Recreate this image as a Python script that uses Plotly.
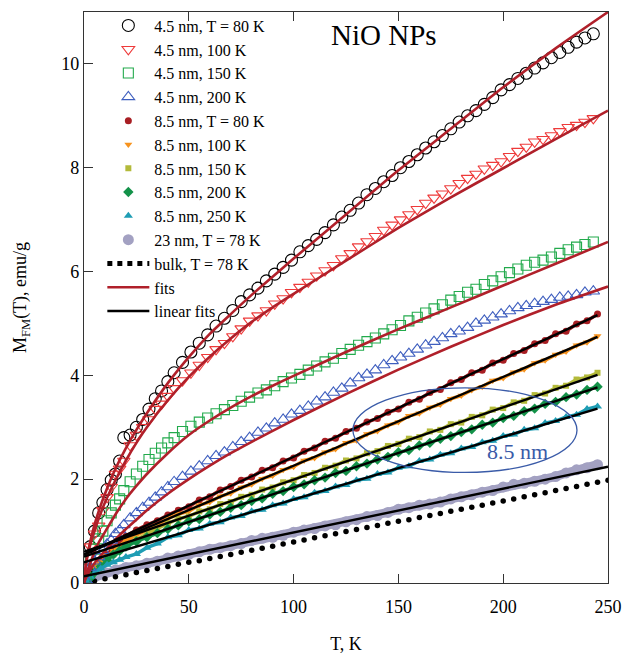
import plotly.graph_objects as go

# ---------------- data ----------------
# 4.5 nm NPs (open markers), common temperature grid
T45 = [1, 3, 5, 7, 9, 11, 13, 15, 17, 19, 22, 25, 28, 31, 34, 37, 40, 43, 47, 51, 55, 59, 63, 67,
       71, 75, 79, 83, 87, 91, 95, 99, 103, 107, 111, 115, 119, 123, 127, 131, 135, 139, 143, 147,
       151, 155, 159, 163, 167, 171, 175, 179, 183, 187, 191, 195, 199, 203, 207, 211, 215, 219,
       223, 227, 231, 235, 239, 243]
m45_80 = [0.25, 0.7, 1.0, 1.35, 1.55, 1.8, 1.98, 2.1, 2.35, 2.8, 2.85, 3.0, 3.15, 3.35, 3.55, 3.7,
          3.88, 4.05, 4.25, 4.45, 4.62, 4.78, 4.95, 5.1, 5.25, 5.42, 5.55, 5.68, 5.82, 5.95, 6.08,
          6.22, 6.38, 6.5, 6.62, 6.75, 6.9, 7.05, 7.18, 7.32, 7.48, 7.6, 7.73, 7.85, 8.0, 8.12, 8.25,
          8.38, 8.5, 8.62, 8.75, 8.88, 9.0, 9.1, 9.22, 9.35, 9.5, 9.6, 9.72, 9.82, 9.92, 10.02,
          10.12, 10.22, 10.32, 10.42, 10.5, 10.58]
m45_100 = [0.3, 0.7, 0.95, 1.1, 1.4, 1.65, 1.85, 2.1, 2.2, 2.35, 2.65, 2.85, 3.0, 3.15, 3.35, 3.45,
           3.6, 3.75, 3.9, 4.05, 4.2, 4.35, 4.5, 4.62, 4.75, 4.9, 5.05, 5.15, 5.25, 5.38, 5.48, 5.6,
           5.7, 5.8, 5.92, 6.02, 6.12, 6.25, 6.35, 6.48, 6.58, 6.68, 6.8, 6.9, 7.0, 7.1, 7.2, 7.32,
           7.42, 7.5, 7.6, 7.7, 7.8, 7.88, 7.98, 8.05, 8.12, 8.22, 8.32, 8.4, 8.5, 8.55, 8.62, 8.7,
           8.78, 8.82, 8.88, 8.95]
m45_150 = [0.1, 0.45, 0.65, 0.85, 1.0, 1.2, 1.35, 1.5, 1.62, 1.78, 1.95, 2.1, 2.25, 2.38, 2.5, 2.6,
           2.7, 2.8, 2.92, 3.02, 3.1, 3.18, 3.26, 3.34, 3.42, 3.5, 3.58, 3.66, 3.72, 3.8, 3.88, 3.95,
           4.02, 4.1, 4.18, 4.26, 4.33, 4.42, 4.5, 4.58, 4.65, 4.72, 4.8, 4.88, 4.96, 5.05, 5.12,
           5.2, 5.28, 5.36, 5.45, 5.52, 5.6, 5.66, 5.75, 5.82, 5.9, 5.98, 6.05, 6.12, 6.18, 6.22,
           6.28, 6.35, 6.42, 6.47, 6.52, 6.57]
m45_200 = [0.05, 0.3, 0.42, 0.5, 0.62, 0.75, 0.82, 0.95, 1.02, 1.12, 1.25, 1.35, 1.45, 1.55, 1.65,
           1.75, 1.85, 1.95, 2.05, 2.15, 2.25, 2.35, 2.45, 2.52, 2.62, 2.72, 2.8, 2.9, 2.98, 3.08,
           3.15, 3.25, 3.32, 3.4, 3.5, 3.58, 3.67, 3.75, 3.85, 3.95, 4.02, 4.1, 4.2, 4.28, 4.35,
           4.42, 4.5, 4.58, 4.65, 4.72, 4.8, 4.85, 4.92, 5.0, 5.06, 5.12, 5.18, 5.24, 5.3, 5.34,
           5.38, 5.42, 5.46, 5.5, 5.52, 5.55, 5.6, 5.62]

# fits for 4.5 nm
T_fit = [0, 1, 2, 3, 5, 7, 10, 15, 20, 25, 30, 40, 50, 60, 70, 80, 90, 100, 125, 150, 175, 200, 225, 250]
fit_80 = [0, 0.4, 0.62, 0.8, 1.12, 1.38, 1.72, 2.2, 2.6, 2.95, 3.27, 3.85, 4.35, 4.8, 5.18, 5.55,
          5.9, 6.25, 7.1, 7.95, 8.75, 9.55, 10.3, 11.0]
fit_100 = [0, 0.38, 0.58, 0.74, 1.0, 1.24, 1.55, 1.98, 2.36, 2.7, 3.0, 3.52, 3.97, 4.36, 4.71, 5.03,
           5.31, 5.57, 6.21, 6.84, 7.43, 7.99, 8.55, 9.1]
fit_150 = [0, 0.18, 0.28, 0.38, 0.6, 0.78, 0.98, 1.32, 1.62, 1.87, 2.1, 2.5, 2.85, 3.13, 3.38, 3.6,
           3.8, 3.99, 4.45, 4.89, 5.31, 5.73, 6.15, 6.57]
fit_200 = [0, 0.1, 0.18, 0.26, 0.38, 0.48, 0.62, 0.84, 1.04, 1.22, 1.4, 1.72, 2.0, 2.26, 2.5, 2.72,
           2.93, 3.14, 3.64, 4.11, 4.55, 4.97, 5.36, 5.71]

# 8.5 nm NPs (filled markers), common temperature grid
T85 = [1, 3, 5, 8, 11, 14, 17, 20, 25, 30, 35, 40, 45, 50, 55, 60, 65, 70, 75, 80, 85, 90, 95, 100,
       105, 110, 115, 120, 125, 130, 135, 140, 145, 150, 155, 160, 165, 170, 175, 180, 185, 190,
       195, 200, 205, 210, 215, 220, 225, 230, 235, 240, 245]
m85_80 = [0.05, 0.15, 0.28, 0.42, 0.55, 0.68, 0.8, 0.9, 1.02, 1.12, 1.2, 1.31, 1.4, 1.47, 1.6, 1.66,
          1.79, 1.86, 1.98, 2.04, 2.17, 2.22, 2.35, 2.41, 2.54, 2.6, 2.73, 2.79, 2.92, 2.98, 3.1,
          3.17, 3.29, 3.35, 3.48, 3.54, 3.67, 3.73, 3.86, 3.92, 4.05, 4.1, 4.24, 4.29, 4.42, 4.48,
          4.61, 4.67, 4.8, 4.85, 4.99, 5.05, 5.18]
m85_100 = [0.04, 0.12, 0.3, 0.4, 0.52, 0.62, 0.72, 0.82, 0.92, 1.02, 1.12, 1.24, 1.33, 1.38, 1.5,
           1.56, 1.67, 1.73, 1.84, 1.9, 2.01, 2.07, 2.18, 2.24, 2.36, 2.41, 2.52, 2.58, 2.7, 2.75,
           2.87, 2.93, 3.04, 3.1, 3.22, 3.27, 3.38, 3.44, 3.55, 3.61, 3.72, 3.78, 3.9, 3.95, 4.06,
           4.12, 4.24, 4.29, 4.4, 4.46, 4.58, 4.64, 4.76]
m85_150 = [0.03, 0.12, 0.22, 0.33, 0.45, 0.55, 0.63, 0.72, 0.84, 0.95, 1.05, 1.15, 1.24, 1.28, 1.38,
           1.42, 1.52, 1.56, 1.66, 1.7, 1.8, 1.84, 1.94, 1.98, 2.08, 2.12, 2.22, 2.26, 2.36, 2.4,
           2.5, 2.54, 2.64, 2.68, 2.78, 2.81, 2.92, 2.95, 3.06, 3.09, 3.2, 3.23, 3.34, 3.37, 3.48,
           3.51, 3.62, 3.65, 3.76, 3.8, 3.92, 3.96, 4.05]
m85_200 = [0.03, 0.1, 0.2, 0.32, 0.44, 0.55, 0.62, 0.7, 0.8, 0.88, 0.96, 1.04, 1.11, 1.19, 1.23,
           1.32, 1.37, 1.45, 1.5, 1.58, 1.63, 1.72, 1.77, 1.85, 1.9, 1.98, 2.03, 2.12, 2.16, 2.25,
           2.3, 2.38, 2.43, 2.52, 2.56, 2.65, 2.7, 2.78, 2.83, 2.91, 2.96, 3.05, 3.09, 3.18, 3.22,
           3.31, 3.36, 3.45, 3.49, 3.58, 3.63, 3.72, 3.78]
m85_250 = [0.03, 0.12, 0.2, 0.28, 0.35, 0.4, 0.45, 0.5, 0.56, 0.68, 0.76, 0.88, 0.92, 1.02, 1.05,
           1.14, 1.17, 1.26, 1.29, 1.38, 1.41, 1.5, 1.53, 1.62, 1.65, 1.74, 1.77, 1.86, 1.89, 1.98,
           2.01, 2.1, 2.13, 2.22, 2.25, 2.35, 2.38, 2.47, 2.5, 2.59, 2.62, 2.71, 2.74, 2.83, 2.86,
           2.95, 2.98, 3.08, 3.12, 3.2, 3.24, 3.35, 3.4]

# linear fits for 8.5 nm
T_lin85 = [0, 245]
lin_80 = [0.55, 5.16]
lin_100 = [0.55, 4.74]
lin_150 = [0.60, 4.01]
lin_200 = [0.51, 3.77]
lin_250 = [0.40, 3.36]

# 23 nm NPs
T23 = [0, 5, 10, 15, 20, 25, 30, 35, 40, 45, 50, 55, 60, 65, 70, 75, 80, 85, 90, 95, 100, 105, 110,
       115, 120, 125, 130, 135, 140, 145, 150, 155, 160, 165, 170, 175, 180, 185, 190, 195, 200,
       205, 210, 215, 220, 225, 230, 235, 240, 245]
m23 = [0.05, 0.12, 0.2, 0.25, 0.3, 0.33, 0.38, 0.42, 0.48, 0.52, 0.55, 0.6, 0.65, 0.68, 0.72, 0.76,
       0.82, 0.86, 0.88, 0.92, 0.98, 1.02, 1.05, 1.1, 1.12, 1.18, 1.22, 1.28, 1.3, 1.36, 1.42, 1.45,
       1.5, 1.52, 1.56, 1.62, 1.66, 1.7, 1.75, 1.78, 1.85, 1.9, 1.92, 1.96, 2.0, 2.05, 2.12, 2.18,
       2.22, 2.28]
T_lin23 = [0, 250]
lin_23 = [0.13, 2.24]

# bulk NiO
T_bulk = [0, 5, 10, 15, 20, 25, 30, 35, 40, 45, 50, 55, 60, 65, 70, 75, 80, 85, 90, 95, 100, 105,
          110, 115, 120, 125, 130, 135, 140, 145, 150, 155, 160, 165, 170, 175, 180, 185, 190, 195,
          200, 205, 210, 215, 220, 225, 230, 235, 240, 245, 250]
m_bulk = [0, 0.04, 0.08, 0.12, 0.16, 0.2, 0.24, 0.28, 0.32, 0.36, 0.4, 0.43, 0.47, 0.51, 0.55, 0.59,
          0.63, 0.67, 0.71, 0.75, 0.79, 0.83, 0.87, 0.91, 0.95, 0.99, 1.03, 1.07, 1.11, 1.15, 1.19,
          1.22, 1.26, 1.3, 1.34, 1.38, 1.42, 1.46, 1.5, 1.54, 1.58, 1.62, 1.66, 1.7, 1.74, 1.78,
          1.82, 1.86, 1.9, 1.94, 1.98]

x_ticks = [0, 50, 100, 150, 200, 250]
y_ticks = [0, 2, 4, 6, 8, 10]

# ---------------- figure ----------------
FONT = "Liberation Serif, Times New Roman, serif"
FIT_RED = "#B0202A"

fig = go.Figure()

# 23 nm band
fig.add_trace(go.Scatter(x=T23, y=m23, mode="lines", line=dict(color="#A3A1C2", width=9),
                         showlegend=False, hoverinfo="skip"))
fig.add_trace(go.Scatter(x=T23, y=m23, mode="markers", name="23 nm, T = 78 K", legendrank=10,
                         marker=dict(symbol="circle", size=11, color="#A3A1C2")))
# bulk dots
fig.add_trace(go.Scatter(x=T_bulk, y=m_bulk, mode="markers", showlegend=False,
                         marker=dict(symbol="circle", size=5.5, color="black")))
fig.add_trace(go.Scatter(x=[None], y=[None], mode="lines", name="bulk, T = 78 K", legendrank=11,
                         line=dict(color="black", width=5, dash="dot")))

# 8.5 nm bands
s85 = [
    (m85_80, "#A81E23", "circle", 7, "8.5 nm, T = 80 K", 5),
    (m85_100, "#F7931E", "triangle-down", 7, "8.5 nm, 100 K", 6),
    (m85_150, "#B3BA3A", "square", 6, "8.5 nm, 150 K", 7),
    (m85_200, "#139249", "diamond", 8, "8.5 nm, 200 K", 8),
    (m85_250, "#1E9DB4", "triangle-up", 8, "8.5 nm, 250 K", 9),
]
for vals, col, sym, sz, name, rank in s85:
    fig.add_trace(go.Scatter(x=T85, y=vals, mode="lines", line=dict(color=col, width=3.5),
                             showlegend=False, hoverinfo="skip"))
    fig.add_trace(go.Scatter(x=T85, y=vals, mode="markers", name=name, legendrank=rank,
                             marker=dict(symbol=sym, size=sz, color=col)))

# 4.5 nm open markers
s45 = [
    (m45_80, "black", "circle-open", 12, "4.5 nm, T = 80 K", 1),
    (m45_100, "#EE3A3A", "triangle-down-open", 11, "4.5 nm, 100 K", 2),
    (m45_150, "#22AA4C", "square-open", 10, "4.5 nm, 150 K", 3),
    (m45_200, "#3F5FBF", "triangle-up-open", 11, "4.5 nm, 200 K", 4),
]
for vals, col, sym, sz, name, rank in s45:
    fig.add_trace(go.Scatter(x=T45, y=vals, mode="markers", name=name, legendrank=rank,
                             marker=dict(symbol=sym, size=sz, color=col, line=dict(width=1.1, color=col))))

# red fits
for i, f in enumerate([fit_80, fit_100, fit_150, fit_200]):
    fig.add_trace(go.Scatter(x=T_fit, y=f, mode="lines", name="fits", legendrank=12,
                             legendgroup="fits", showlegend=(i == 0),
                             line=dict(color=FIT_RED, width=2.6, shape="spline", smoothing=0.5)))

# black linear fits
lin_sets = [(T_lin85, lin_80), (T_lin85, lin_100), (T_lin85, lin_150), (T_lin85, lin_200),
            (T_lin85, lin_250), (T_lin23, lin_23)]
for i, (tx, ly) in enumerate(lin_sets):
    fig.add_trace(go.Scatter(x=tx, y=ly, mode="lines", name="linear fits", legendrank=13,
                             legendgroup="lin", showlegend=(i == 0),
                             line=dict(color="black", width=2.4)))

fig.update_layout(
    width=636, height=654,
    margin=dict(l=76, r=36, t=1, b=79),
    plot_bgcolor="white", paper_bgcolor="white",
    font=dict(family=FONT, size=18, color="black"),
    showlegend=True,
    legend=dict(x=0.035, y=1.006, xanchor="left", yanchor="top", bgcolor="rgba(0,0,0,0)",
                font=dict(family=FONT, size=16, color="black"), itemwidth=42,
                traceorder="normal", tracegroupgap=0),
    xaxis=dict(range=[0, 250], tickvals=x_ticks, ticks="inside", ticklen=9, tickwidth=1,
               tickcolor="#333", showline=True, linecolor="#333", linewidth=1.2, mirror="ticks",
               showgrid=False, zeroline=False, tickfont=dict(size=18), ticklabelstandoff=7,
               title=dict(text="T, K", font=dict(size=18), standoff=21)),
    yaxis=dict(range=[0, 11], tickvals=y_ticks, ticks="inside", ticklen=9, tickwidth=1,
               tickcolor="#333", showline=True, linecolor="#333", linewidth=1.2, mirror=True,
               showgrid=False, zeroline=False, tickfont=dict(size=18),
               title=dict(text="M<sub>FM</sub>(T), emu/g", font=dict(size=18), standoff=29)),
    annotations=[
        dict(x=143, y=10.55, xref="x", yref="y", text="NiO NPs", showarrow=False,
             font=dict(family=FONT, size=29, color="black")),
        dict(x=207, y=2.53, xref="x", yref="y", text="8.5 nm", showarrow=False,
             font=dict(family=FONT, size=22, color="#3A5BA8")),
    ],
    shapes=[
        dict(type="circle", xref="x", yref="y", x0=128.3, x1=235.2, y0=2.13, y1=3.76,
             line=dict(color="#3A5BA8", width=1.3)),
    ],
)

fig.write_html("out.html")
